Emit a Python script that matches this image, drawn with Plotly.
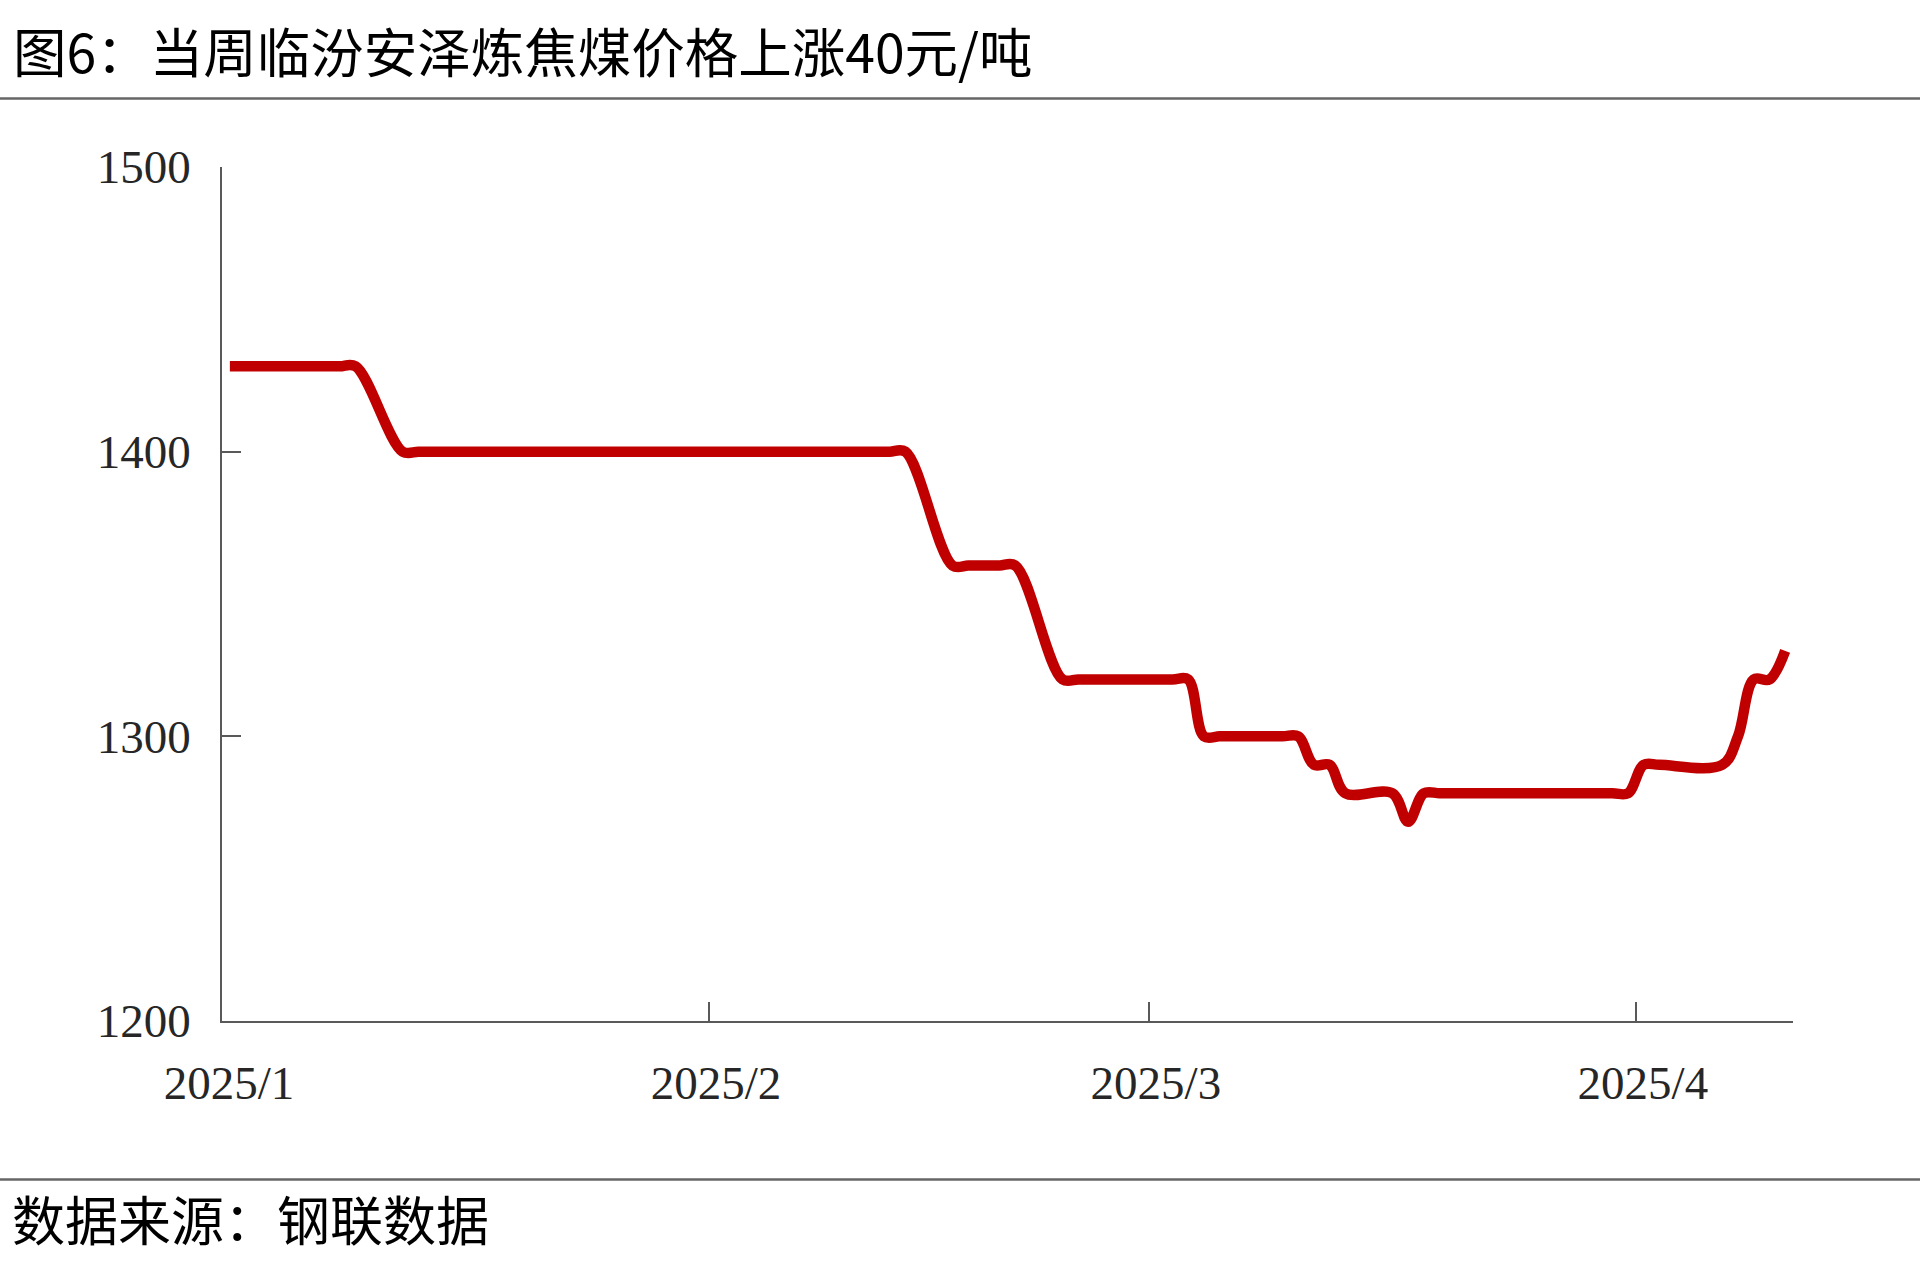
import pandas as pd
import plotly.graph_objects as go

# ---------------- data ----------------
dates = [
    "2025-01-02", "2025-01-03",
    "2025-01-06", "2025-01-07", "2025-01-08", "2025-01-09", "2025-01-10",
    "2025-01-13", "2025-01-14", "2025-01-15", "2025-01-16", "2025-01-17",
    "2025-01-20", "2025-01-21", "2025-01-22", "2025-01-23", "2025-01-24",
    "2025-01-27",
    "2025-02-05", "2025-02-06", "2025-02-07",
    "2025-02-10", "2025-02-11", "2025-02-12", "2025-02-13", "2025-02-14",
    "2025-02-17", "2025-02-18", "2025-02-19", "2025-02-20", "2025-02-21",
    "2025-02-24", "2025-02-25", "2025-02-26", "2025-02-27", "2025-02-28",
    "2025-03-03", "2025-03-04", "2025-03-05", "2025-03-06", "2025-03-07",
    "2025-03-10", "2025-03-11", "2025-03-12", "2025-03-13", "2025-03-14",
    "2025-03-17", "2025-03-18", "2025-03-19", "2025-03-20", "2025-03-21",
    "2025-03-24", "2025-03-25", "2025-03-26", "2025-03-27", "2025-03-28",
    "2025-03-31", "2025-04-01", "2025-04-02", "2025-04-03",
    "2025-04-07", "2025-04-08", "2025-04-09", "2025-04-10", "2025-04-11",
]
prices = [
    1430, 1430,
    1430, 1430, 1430, 1430, 1430,
    1400, 1400, 1400, 1400, 1400,
    1400, 1400, 1400, 1400, 1400,
    1400,
    1400, 1400, 1400,
    1400, 1400, 1400, 1400, 1400,
    1360, 1360, 1360, 1360, 1360,
    1320, 1320, 1320, 1320, 1320,
    1320, 1320, 1300, 1300, 1300,
    1300, 1300, 1290, 1290, 1280,
    1280, 1270, 1280, 1280, 1280,
    1280, 1280, 1280, 1280, 1280,
    1280, 1280, 1290, 1290,
    1290, 1300, 1320, 1320, 1330,
]
tick_dates = ["2025-01-01", "2025-02-01", "2025-03-01", "2025-04-01"]
tick_labels = ["2025/1", "2025/2", "2025/3", "2025/4"]
y_ticks = [1200, 1300, 1400, 1500]

title_text = "图6：当周临汾安泽炼焦煤价格上涨40元/吨"
source_text = "数据来源：钢联数据"

# ---------------- layout geometry (px) ----------------
W, H = 1920, 1279
L, R, T, B = 222, 1793, 166.5, 1021.3
pw, ph = R - L, B - T

def px_x(x):
    return (x - L) / pw

def px_y(y):
    return (B - y) / ph

half_day = pd.Timedelta(hours=12)
x_dates = pd.to_datetime(dates)
tick_pos = pd.to_datetime(tick_dates) + half_day
x_range = [pd.Timestamp("2025-01-01") + half_day, pd.Timestamp("2025-04-11") + half_day]

AXIS = "#595959"
TXT = "#262626"
SERIF = "Liberation Serif, Times New Roman, serif"
CJK = "Noto Sans CJK SC, sans-serif"

fig = go.Figure()
fig.add_trace(go.Scatter(
    x=x_dates, y=prices, mode="lines",
    line=dict(color="#C00000", width=10.5, shape="spline", smoothing=1.0),
    showlegend=False, hoverinfo="x+y",
))

fig.update_layout(
    width=W, height=H,
    margin=dict(l=L, r=W - R, t=T, b=H - B, autoexpand=False),
    paper_bgcolor="white", plot_bgcolor="white",
    title=dict(text=title_text, x=13 / W, xanchor="left", xref="container",
               y=1 - 54 / H, yanchor="middle", yref="container",
               font=dict(family=CJK, size=53.5, color="#000000")),
    xaxis=dict(
        type="date", range=x_range,
        tickmode="array", tickvals=tick_pos, ticktext=tick_labels,
        ticks="inside", ticklen=19, tickwidth=1.5, tickcolor=AXIS,
        showline=True, linecolor=AXIS, linewidth=1.5,
        showgrid=False, zeroline=False,
        tickfont=dict(family=SERIF, size=47, color=TXT),
        ticklabelstandoff=20, ticklabelshift=7,
    ),
    yaxis=dict(
        range=[1200, 1500], tickmode="array", tickvals=y_ticks,
        ticks="inside", ticklen=19, tickwidth=1.5, tickcolor=AXIS,
        showline=True, linecolor=AXIS, linewidth=1.5,
        showgrid=False, zeroline=False,
        tickfont=dict(family=SERIF, size=47, color=TXT),
        ticklabelstandoff=20,
    ),
    shapes=[
        dict(type="line", xref="paper", yref="paper",
             x0=px_x(0), x1=px_x(W), y0=px_y(98), y1=px_y(98),
             line=dict(color="#666666", width=2.5)),
        dict(type="line", xref="paper", yref="paper",
             x0=px_x(0), x1=px_x(W), y0=px_y(1180), y1=px_y(1180),
             line=dict(color="#666666", width=2.5)),
    ],
    annotations=[
        dict(text=source_text, xref="paper", yref="paper",
             x=px_x(10), y=px_y(1218), xanchor="left", yanchor="middle",
             showarrow=False, font=dict(family=CJK, size=53, color="#000000")),
    ],
)

fig.write_html(
    "out.html",
    config={"displayModeBar": False},
    post_script="document.body.style.margin='0';document.body.style.overflow='hidden';",
)
